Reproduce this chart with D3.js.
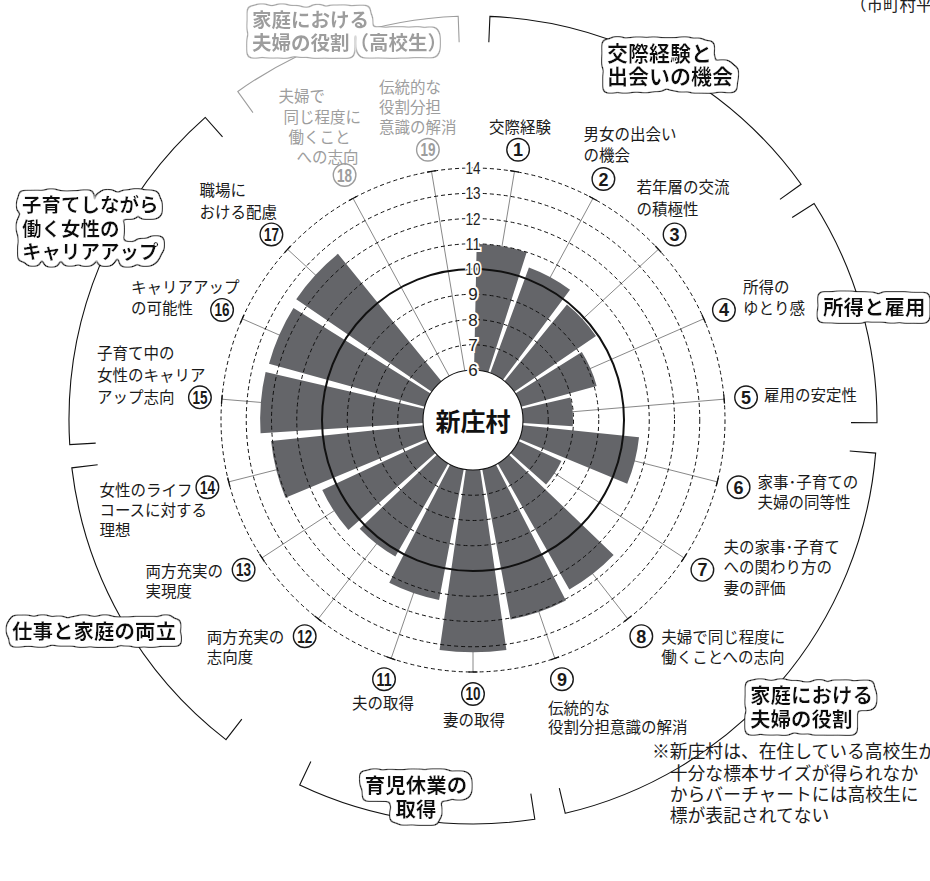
<!DOCTYPE html>
<html><head><meta charset="utf-8">
<script src="https://cdn.jsdelivr.net/npm/d3@7/dist/d3.min.js"></script>
<style>
html,body{margin:0;padding:0;background:#fff;overflow:hidden}
svg{display:block}
text{font-family:"Noto Sans CJK JP","Noto Sans",sans-serif}
</style></head><body>
<svg id="chart" width="930" height="881"></svg>
<script>
// ---------- data ----------
const categoryNumbers = d3.range(1, 20);
const categoryLabels = [
  ["交際経験"],
  ["男女の出会い","の機会"],
  ["若年層の交流","の積極性"],
  ["所得の","ゆとり感"],
  ["雇用の安定性"],
  ["家事･子育ての","夫婦の同等性"],
  ["夫の家事･子育て","への関わり方の","妻の評価"],
  ["夫婦で同じ程度に","働くことへの志向"],
  ["伝統的な","役割分担意識の解消"],
  ["妻の取得"],
  ["夫の取得"],
  ["両方充実の","志向度"],
  ["両方充実の","実現度"],
  ["女性のライフ","コースに対する","理想"],
  ["子育て中の","女性のキャリア","アップ志向"],
  ["キャリアアップ","の可能性"],
  ["職場に","おける配慮"],
  ["夫婦で","同じ程度に","働くこと","への志向"],
  ["伝統的な","役割分担","意識の解消"]
];
const values = [11.0, 10.45, 9.92, 9.1, 7.98, 10.63, 7.88, 11.74, 12.06, 13.22,
                11.27, 10.24, 10.6, 12.06, 12.45, 12.4, 12.5, null, null];
const tickValues = [6,7,8,9,10,11,12,13,14];
const groupNames = [
  ["交際経験と","出会いの機会"],
  ["所得と雇用"],
  ["家庭における","夫婦の役割"],
  ["育児休業の","取得"],
  ["仕事と家庭の両立"],
  ["子育てしながら","働く女性の","キャリアアップ"],
  ["家庭における","夫婦の役割（高校生）"]
];
const centerName = "新庄村";
const noteLines = ["※新庄村は、在住している高校生が",
                   "　十分な標本サイズが得られなか",
                   "　からバーチャートには高校生に",
                   "　標が表記されてない"];
const topNote = "（市町村平";

// ---------- layout (positions & styles) ----------
const W = 930, H = 881, cx = 473, cy = 420;
const labelR = 274;
const labelLayout = [
  {anchor:"middle", dx:2,   dys:[-22]},
  {anchor:"start",  dx:-20, dys:[-45,-24]},
  {anchor:"start",  dx:-38, dys:[-47,-25]},
  {anchor:"start",  dx:19,  dys:[-23,-2]},
  {anchor:"start",  dx:18,  dys:[-2]},
  {anchor:"start",  dx:19,  dys:[-5,15]},
  {anchor:"start",  dx:21,  dys:[-22,-2,19]},
  {anchor:"start",  dx:20,  dys:[1,21]},
  {anchor:"start",  dx:-14, dys:[29,48]},
  {anchor:"middle", dx:1,   dys:[26]},
  {anchor:"middle", dx:-1,  dys:[24]},
  {anchor:"start",  dx:-98, dys:[1,21]},
  {anchor:"start",  dx:-98, dys:[2,22]},
  {anchor:"start",  dx:-108,dys:[3,23,43]},
  {anchor:"start",  dx:-103,dys:[-44,-22,0]},
  {anchor:"start",  dx:-91, dys:[-23,-2]},
  {anchor:"start",  dx:-72, dys:[-44,-22]},
  {anchor:"start",  dx:[-66,-61,-56,-48], dys:[-79,-58,-38,-18], off:[2,-4]},
  {anchor:"start",  dx:-49, dys:[-62,-42,-22]}
];
const groupLayout = [
  {a0:2.4,   a1:54.3,  x:607, ys:[53,76],  anchor:"start", fs:21},
  {a0:57.6,  a1:90.4,  x:823, ys:[308],    anchor:"start"},
  {a0:94.7,  a1:166.8, x:750, ys:[696,720],anchor:"start"},
  {a0:171.2, a1:205.4, x:416, ys:[786,810],anchor:"middle"},
  {a0:217.7, a1:263.2, x:12,  ys:[632],    anchor:"start"},
  {a0:266.5, a1:318.5, x:22,  ys:[205,229,252], anchor:"start", fs:19.5},
  {a0:324.4, a1:357.9, x:252, ys:[20,43],  anchor:"start", grey:true, fs:19.5}
];
const GREY = "#9d9d9d", BAR = "#646569";

const svg = d3.select("#chart");
const defs = svg.append("defs");
function cloudFilter(id, color){
  const f = defs.append("filter").attr("id", id).attr("filterUnits","userSpaceOnUse")
    .attr("x",0).attr("y",0).attr("width",W).attr("height",H);
  f.append("feMorphology").attr("in","SourceAlpha").attr("operator","dilate").attr("radius",3.6).attr("result","dil");
  f.append("feGaussianBlur").attr("in","dil").attr("stdDeviation",2.6).attr("result","blur");
  f.append("feComponentTransfer").attr("in","blur").attr("result","blob")
    .append("feFuncA").attr("type","linear").attr("slope",7).attr("intercept",-1.2);
  f.append("feMorphology").attr("in","blob").attr("operator","dilate").attr("radius",1.2).attr("result","outer");
  f.append("feFlood").attr("flood-color",color).attr("result","c1");
  f.append("feComposite").attr("in","c1").attr("in2","outer").attr("operator","in").attr("result","ring");
  f.append("feFlood").attr("flood-color","#fff").attr("result","c2");
  f.append("feComposite").attr("in","c2").attr("in2","blob").attr("operator","in").attr("result","fillw");
  const m = f.append("feMerge");
  m.append("feMergeNode").attr("in","ring");
  m.append("feMergeNode").attr("in","fillw");
  m.append("feMergeNode").attr("in","SourceGraphic");
}
cloudFilter("cloudK", "#111");
cloudFilter("cloudG", GREY);

const g = svg.append("g").attr("transform", `translate(${cx},${cy})`);
const r = d3.scaleLinear().domain([6,14]).range([50,252]);
const ang = d3.scaleBand().domain(d3.range(categoryNumbers.length)).range([0, 2*Math.PI]);
const bw = ang.bandwidth();
const pad = 1.2 * Math.PI/180;
const mid = i => ang(i) + bw/2;
const pol = (a, rr) => [rr*Math.sin(a), -rr*Math.cos(a)];

// leader lines (under bars)
const lines = g.append("g");
categoryNumbers.forEach((n,i) => {
  const a = mid(i);
  const [x0,y0] = pol(a, r(6)), [x1,y1] = pol(a, r(14));
  lines.append("line").attr("x1",x0).attr("y1",y0).attr("x2",x1).attr("y2",y1)
    .attr("stroke","#6a6a6a").attr("stroke-width",0.8);
});

// bars
const arc = d3.arc();
g.append("g").selectAll("path")
  .data(values.map((v,i)=>({v,i})).filter(d=>d.v!=null))
  .join("path")
  .attr("d", d => arc({innerRadius:r(6), outerRadius:r(d.v), startAngle:ang(d.i)+pad, endAngle:ang(d.i)+bw-pad}))
  .attr("fill", BAR);

// grid circles
g.append("g").selectAll("circle")
  .data(tickValues.filter(v => v !== 6 && v !== 10))
  .join("circle").attr("r", d => r(d)).attr("fill","none")
  .attr("stroke","#111").attr("stroke-width",1).attr("stroke-dasharray","4,3");
g.append("circle").attr("r", r(10)).attr("fill","none").attr("stroke","#111").attr("stroke-width",2);

// ticks at r14
categoryNumbers.forEach((n,i) => {
  const a = mid(i);
  const [x,y] = pol(a, r(14));
  const tx = Math.cos(a)*4.5, ty = Math.sin(a)*4.5;
  g.append("line").attr("x1",x-tx).attr("y1",y-ty).attr("x2",x+tx).attr("y2",y+ty)
    .attr("stroke","#111").attr("stroke-width",1.3);
});

// inner circle
g.append("circle").attr("r", r(6)).attr("fill","#fff").attr("stroke","#111").attr("stroke-width",1.1);
g.append("text").text(centerName).attr("text-anchor","middle").attr("dominant-baseline","central")
  .attr("y",0).attr("font-size",25).attr("font-weight",700).attr("fill","#111");

// tick labels
g.append("g").selectAll("text").data(tickValues).join("text")
  .attr("x",0).attr("y", d => -r(d)).attr("dy","0.36em")
  .attr("text-anchor","middle")
  .style("font-family",'"Liberation Sans Narrow","Liberation Sans",sans-serif')
  .attr("font-size",17).attr("fill","#222")
  .attr("stroke","#fff").attr("stroke-width",4).attr("paint-order","stroke")
  .attr("textLength", d => String(d).length > 1 ? 15 : null)
  .attr("lengthAdjust","spacingAndGlyphs")
  .text(d => d);

// category labels
categoryNumbers.forEach((n,i) => {
  const L = labelLayout[i];
  const grey = values[i] == null;
  const col = grey ? GREY : "#1a1a1a";
  let [x,y] = pol(mid(i), labelR);
  if (L.off) { x += L.off[0]; y += L.off[1]; }
  const lg = g.append("g").attr("transform", `translate(${x},${y})`);
  lg.append("circle").attr("r",11.3).attr("fill","#fff").attr("stroke",col).attr("stroke-width",1.4);
  lg.append("text").text(n).attr("text-anchor","middle").attr("dy","0.36em")
    .style("font-family",'"Liberation Sans Narrow","Liberation Sans",sans-serif').attr("font-weight",700)
    .attr("font-size",18).attr("fill",col)
    .attr("textLength", n > 9 ? 15 : null).attr("lengthAdjust","spacingAndGlyphs");
  categoryLabels[i].forEach((t,k) => {
    const dx = Array.isArray(L.dx) ? L.dx[k] : L.dx;
    lg.append("text").text(t).attr("x",dx).attr("y",L.dys[k]).attr("dy","0.36em")
      .attr("text-anchor",L.anchor).attr("font-size",15.5).attr("fill",col);
  });
});

// group arcs
const R = 404, tick = 26;
const garcs = svg.append("g").attr("transform", `translate(${cx},${cy})`);
groupLayout.forEach((G,i) => {
  const a0 = G.a0*Math.PI/180, a1 = G.a1*Math.PI/180;
  const p = d3.path();
  const [ix0,iy0] = pol(a0, R - tick), [ox0,oy0] = pol(a0, R);
  const [ix1,iy1] = pol(a1, R - tick);
  p.moveTo(ix0,iy0); p.lineTo(ox0,oy0);
  p.arc(0,0,R,a0-Math.PI/2,a1-Math.PI/2,false);
  p.lineTo(ix1,iy1);
  garcs.append("path").attr("d", p.toString()).attr("fill","none")
    .attr("stroke", G.grey ? GREY : "#111").attr("stroke-width",1.1);
});

// group labels
groupLayout.forEach((G,i) => {
  const lg = svg.append("g").attr("filter", G.grey ? "url(#cloudG)" : "url(#cloudK)");
  groupNames[i].forEach((t,k) => {
    lg.append("text").text(t).attr("x",G.x).attr("y",G.ys[k]).attr("dy","0.36em")
      .attr("text-anchor",G.anchor).attr("font-size",G.fs || 20.5).attr("font-weight",700)
      .attr("fill", G.grey ? GREY : "#111");
  });
});

// notes
svg.append("text").text(topNote).attr("x",850).attr("y",11).attr("font-size",16.5).attr("fill","#222");
noteLines.forEach((t,k) => {
  svg.append("text").text(t).attr("x",652).attr("y",752 + k*21.3).attr("dy","0.36em")
    .attr("font-size",17.8).attr("fill","#1a1a1a");
});
</script>
</body></html>
